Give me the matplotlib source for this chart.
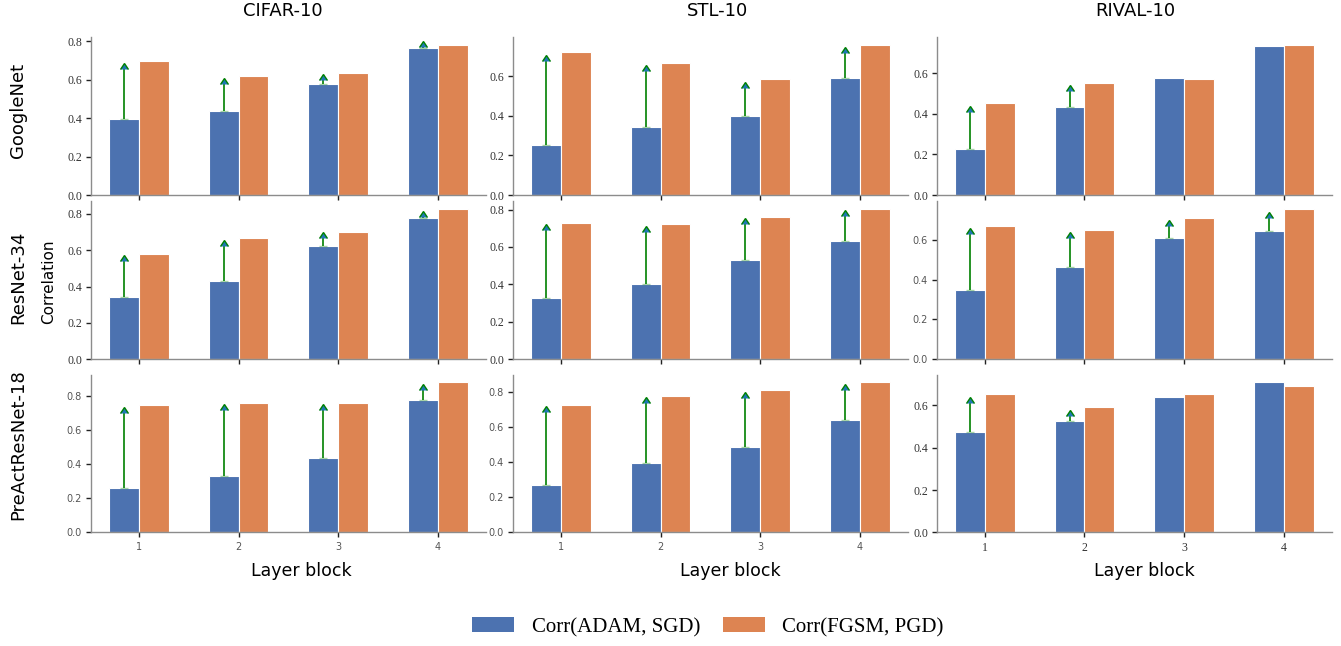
import numpy as np
import matplotlib
matplotlib.use('Agg')
import matplotlib.pyplot as plt
from matplotlib.patches import Patch

nan = np.nan

datasets = ['CIFAR-10', 'STL-10', 'RIVAL-10']
models = ['GoogleNet', 'ResNet-34', 'PreActResNet-18']
blocks = [1, 2, 3, 4]

# Corr(ADAM, SGD) per dataset (CIFAR-10, STL-10, RIVAL-10)
googlenet_adam_sgd = [[0.397, 0.440, 0.578, 0.764],
                      [0.254, 0.342, 0.398, 0.590],
                      [0.227, 0.431, 0.577, 0.735]]
resnet34_adam_sgd = [[0.341, 0.433, 0.621, 0.780],
                     [0.325, 0.400, 0.529, 0.634],
                     [0.347, 0.465, 0.607, 0.645]]
preact18_adam_sgd = [[0.258, 0.332, 0.437, 0.775],
                     [0.271, 0.397, 0.486, 0.638],
                     [0.473, 0.525, 0.638, 0.710]]

# Corr(FGSM, PGD)
googlenet_fgsm_pgd = [[0.696, 0.621, 0.637, 0.783],
                      [0.723, 0.668, 0.585, 0.760],
                      [0.452, 0.553, 0.572, 0.740]]
resnet34_fgsm_pgd = [[0.579, 0.665, 0.701, 0.827],
                     [0.728, 0.721, 0.762, 0.803],
                     [0.672, 0.652, 0.712, 0.755]]
preact18_fgsm_pgd = [[0.745, 0.757, 0.757, 0.879],
                     [0.724, 0.775, 0.807, 0.853],
                     [0.655, 0.593, 0.655, 0.690]]

# arrow end (improved Corr(ADAM, SGD)), nan = no arrow
googlenet_arrow = [[0.655, 0.578, 0.598, 0.770],
                   [0.678, 0.625, 0.542, 0.718],
                   [0.410, 0.512, nan, nan]]
resnet34_arrow = [[0.540, 0.625, 0.665, 0.785],
                  [0.690, 0.680, 0.725, 0.765],
                  [0.630, 0.610, 0.670, 0.710]]
preact18_arrow = [[0.700, 0.715, 0.715, 0.835],
                  [0.685, 0.735, 0.765, 0.810],
                  [0.610, 0.550, nan, nan]]

adam_all = [googlenet_adam_sgd, resnet34_adam_sgd, preact18_adam_sgd]
fgsm_all = [googlenet_fgsm_pgd, resnet34_fgsm_pgd, preact18_fgsm_pgd]
arrow_all = [googlenet_arrow, resnet34_arrow, preact18_arrow]

blue = '#4C72B0'
orange = '#DD8452'

# panels whose tick labels are sans (the rest are serif)
sans_panels = [(1, 2), (2, 0), (2, 1)]

fig = plt.figure(figsize=(13.41, 6.46), dpi=100)

col_left = [0.0679, 0.3826, 0.6987]
col_w = 0.2943
row_bottom = [0.6981, 0.4438, 0.1757]
row_h = 0.2443

x = np.array(blocks, dtype=float)
w = 0.3

for r in range(3):
    for c in range(3):
        ax = fig.add_axes([col_left[c], row_bottom[r], col_w, row_h])
        adam = np.array(adam_all[r][c])
        fgsm = np.array(fgsm_all[r][c])
        arr = np.array(arrow_all[r][c])

        ax.bar(x - w / 2, adam, width=w, color=blue, edgecolor='white', linewidth=0.8)
        ax.bar(x + w / 2, fgsm, width=w, color=orange, edgecolor='white', linewidth=0.8)

        m = ~np.isnan(arr)
        if m.any():
            up = arr[m] - adam[m]
            eb = ax.errorbar(x[m] - w / 2, adam[m], yerr=[np.zeros(m.sum()), up],
                             lolims=True, fmt='none', ecolor='green',
                             elinewidth=1.2, capsize=2.8)
            for cl in eb[1]:
                if cl.get_marker() == '_':
                    cl.set_alpha(0.35)

        ax.set_xticks(blocks)
        bottom, top = ax.get_ylim()
        ax.set_ylim(0, top)
        ax.set_yticks([t for t in [0.0, 0.2, 0.4, 0.6, 0.8] if t <= top])
        ax.set_ylim(0, top)

        for s in ['top', 'right']:
            ax.spines[s].set_visible(False)
        for s in ['left', 'bottom']:
            ax.spines[s].set_color('#8c8c8c')
            ax.spines[s].set_linewidth(1.0)

        if (r, c) in sans_panels:
            fam, fs, col = 'DejaVu Sans', 7, '#555555'
        else:
            fam, fs, col = 'Liberation Serif', 8.5, '#333333'

        ax.tick_params(axis='both', direction='out', length=3.5, width=1.0,
                       color='#222222', labelsize=fs, labelcolor=col, pad=3)
        ax.set_yticklabels(['%.1f' % t for t in ax.get_yticks()], family=fam)
        if r == 2:
            ax.set_xticklabels([str(b) for b in blocks], family=fam)
        else:
            ax.set_xticklabels([])

# column titles
title_x = [282.5, 717.5, 1135]
for name, px in zip(datasets, title_x):
    fig.text(px / 1341, 1 - 11 / 646, name, ha='center', va='center', fontsize=13)

# x labels
xl_x = [301.5, 730.5, 1144.5]
for px in xl_x:
    fig.text(px / 1341, 1 - 571 / 646, 'Layer block', ha='center', va='center', fontsize=12.5)

# row labels
row_y = [110, 277, 445]
for name, py in zip(models, row_y):
    fig.text(18 / 1341, 1 - py / 646, name, ha='center', va='center',
             rotation=90, fontsize=13)

fig.text(49 / 1341, 1 - 282 / 646, 'Correlation', ha='center', va='center',
         rotation=90, fontsize=11)

handles = [Patch(facecolor=blue, edgecolor='none'), Patch(facecolor=orange, edgecolor='none')]
fig.legend(handles, ['Corr(ADAM, SGD)', 'Corr(FGSM, PGD)'], loc='center',
           bbox_to_anchor=(0.528, 0.029), ncol=2, frameon=False,
           prop={'family': 'Liberation Serif', 'size': 15},
           handlelength=2.0, handleheight=0.7, handletextpad=0.85, columnspacing=1.1)

fig.savefig('out.png', dpi=100)
